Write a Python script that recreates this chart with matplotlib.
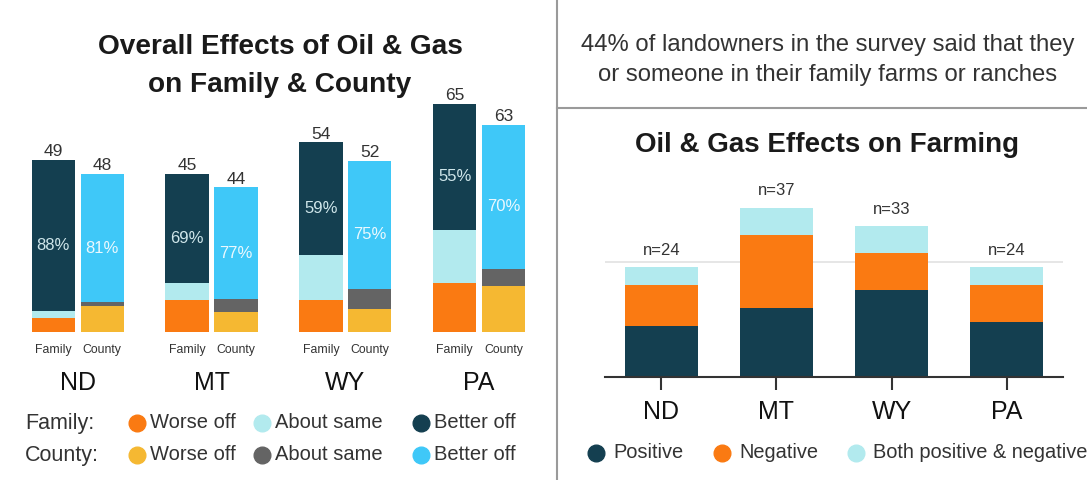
import numpy as np
import matplotlib.pyplot as plt
from matplotlib.lines import Line2D

plt.rcParams['font.family'] = ['Liberation Sans', 'DejaVu Sans']

# ── Data ──────────────────────────────────────────────────────────────────────
STATES = ['ND', 'MT', 'WY', 'PA']

FAM_WORSE = [4, 9, 9, 14]
FAM_SAME = [2, 5, 13, 15]
FAM_BETTER = [43, 31, 32, 36]
FAM_TOTAL = [49, 45, 54, 65]
FAM_PCT = ['88%', '69%', '59%', '55%']

CTY_WORSE = [8, 6, 7, 14]
CTY_SAME = [1, 4, 6, 5]
CTY_BETTER = [39, 34, 39, 44]
CTY_TOTAL = [48, 44, 52, 63]
CTY_PCT = ['81%', '77%', '75%', '70%']

FARM_POS = [11, 15, 19, 12]
FARM_NEG = [9, 16, 8, 8]
FARM_BOTH = [4, 6, 6, 4]
FARM_N = [24, 37, 33, 24]

# ── Colors ────────────────────────────────────────────────────────────────────
DARK = '#143f50'
ORANGE = '#fa7a12'
LCYAN = '#b2eaee'
YELLOW = '#f5b832'
GREY = '#646464'
SKY = '#3fc8f8'
TXT = '#333333'

W, H = 1087, 480
fig = plt.figure(figsize=(W / 100, H / 100), dpi=100)
fig.patch.set_facecolor('white')


def px_axes(x0, y_top, x1, y_bot):
    return fig.add_axes([x0 / W, 1 - y_bot / H, (x1 - x0) / W, (y_bot - y_top) / H])


# ── Left chart ────────────────────────────────────────────────────────────────
ax = px_axes(10.9, 95, 546, 332)
ax2 = ax.twinx()
x = np.arange(len(STATES))
bw, off = 0.324, 0.183
fam_x, cty_x = x - off, x + off

fw, fs, fb = map(np.array, (FAM_WORSE, FAM_SAME, FAM_BETTER))
ax.bar(fam_x, fw, bw, color=ORANGE)
ax.bar(fam_x, fs, bw, bottom=fw, color=LCYAN)
ax.bar(fam_x, fb, bw, bottom=fw + fs, color=DARK)
for xi, tot, pct, b0, bb in zip(fam_x, FAM_TOTAL, FAM_PCT, fw + fs, fb):
    ax.text(xi, tot + 0.2, str(tot), ha='center', va='bottom', fontsize=12.5, color=TXT)
    ax.text(xi, b0 + bb / 2 - 2.8, pct, ha='center', va='center', fontsize=12, color='#cfe6ea')

cw, cs, cb = map(np.array, (CTY_WORSE, CTY_SAME, CTY_BETTER))
ax2.bar(cty_x, cw, bw, color=YELLOW)
ax2.bar(cty_x, cs, bw, bottom=cw, color=GREY)
ax2.bar(cty_x, cb, bw, bottom=cw + cs, color=SKY)
for xi, tot, pct, b0, bb in zip(cty_x, CTY_TOTAL, CTY_PCT, cw + cs, cb):
    ax2.text(xi, tot + 0.2, str(tot), ha='center', va='bottom', fontsize=12.5, color=TXT)
    ax2.text(xi, b0 + bb / 2 - 3.0, pct, ha='center', va='center', fontsize=12, color='#eaf8fe')

ax.set_xlim(-0.5, 3.5)
ax.set_ylim(0, 237 / 3.51)
ax2.set_ylim(0, 237 / 3.29)
for a in (ax, ax2):
    a.set_yticks([])
    for s in a.spines.values():
        s.set_visible(False)
ax.set_xticks(np.concatenate([fam_x, cty_x]))
ax.set_xticklabels(['Family'] * 4 + ['County'] * 4, fontsize=8.8, color=TXT)
ax.tick_params(axis='x', length=0, pad=9)
for xi, st in zip(x, STATES):
    ax.text(xi, -0.215, st, transform=ax.get_xaxis_transform(), ha='center', va='center',
            fontsize=18, color='#111111')

# ── Right chart ───────────────────────────────────────────────────────────────
rx = px_axes(605, 376.7 - 45 * 4.57, 1063, 376.7)
pos, neg, both = map(np.array, (FARM_POS, FARM_NEG, FARM_BOTH))
xr = np.arange(len(STATES))
rw = 0.64
rx.bar(xr, pos, rw, color=DARK, zorder=2)
rx.bar(xr, neg, rw, bottom=pos, color=ORANGE, zorder=2)
rx.bar(xr, both, rw, bottom=pos + neg, color=LCYAN, zorder=2)
for xi, tot, n in zip(xr, pos + neg + both, FARM_N):
    rx.text(xi, tot + 2.0, f'n={n}', ha='center', va='bottom', fontsize=12, color=TXT)
rx.set_xlim(-0.49, 3.49)
rx.set_ylim(0, 45)
rx.set_yticks([25])
rx.set_yticklabels([])
rx.tick_params(axis='y', length=0)
rx.yaxis.grid(True, color='#e2e2e2', linewidth=1.2, zorder=0)
rx.set_xticks(xr)
rx.set_xticklabels(STATES, fontsize=18, color='#111111')
rx.tick_params(axis='x', length=9.5, width=1.5, color='#333333', pad=7)
for k in ('top', 'right', 'left'):
    rx.spines[k].set_visible(False)
rx.spines['bottom'].set_color('#333333')
rx.spines['bottom'].set_linewidth(1.5)

# ── Titles, dividers and legends (overlay in pixel coords) ───────────────────
ov = fig.add_axes([0, 0, 1, 1], facecolor='none')
ov.set_xlim(0, W)
ov.set_ylim(H, 0)
ov.axis('off')

ov.text(280, 47, 'Overall Effects of Oil & Gas', ha='center', va='center',
        fontsize=20.2, fontweight='bold', color='#1a1a1a')
ov.text(280, 85, 'on Family & County', ha='center', va='center',
        fontsize=20.2, fontweight='bold', color='#1a1a1a')
ov.text(828, 45, '44% of landowners in the survey said that they', ha='center', va='center',
        fontsize=17.2, color=TXT)
ov.text(828, 75, 'or someone in their family farms or ranches', ha='center', va='center',
        fontsize=17.2, color=TXT)
ov.text(827, 145, 'Oil & Gas Effects on Farming', ha='center', va='center',
        fontsize=20, fontweight='bold', color='#1a1a1a')

ov.plot([557, 557], [0, H], color='#9a9a9a', lw=1.5)
ov.plot([557, W], [108, 108], color='#9a9a9a', lw=1.5)

# left legend
leg_rows = [('Family:', 423, [ORANGE, LCYAN, DARK]), ('County:', 455, [YELLOW, GREY, SKY])]
leg_labels = ['Worse off', 'About same', 'Better off']
for name, yy, cols in leg_rows:
    ov.text(25, yy, name, ha='left', va='center', fontsize=15.5, color=TXT)
    for mx, col, lab in zip([137, 262, 421], cols, leg_labels):
        ov.add_line(Line2D([mx], [yy], marker='o', markersize=12, color=col, lw=0))
        ov.text(mx + 13, yy, lab, ha='left', va='center', fontsize=14.5, color=TXT)

# right legend
for mx, col, lab in zip([596, 722, 856], [DARK, ORANGE, LCYAN],
                        ['Positive', 'Negative', 'Both positive & negative']):
    ov.add_line(Line2D([mx], [453], marker='o', markersize=12, color=col, lw=0))
    ov.text(mx + 17, 453, lab, ha='left', va='center', fontsize=14.4, color=TXT)

fig.savefig('out.png', dpi=100)
